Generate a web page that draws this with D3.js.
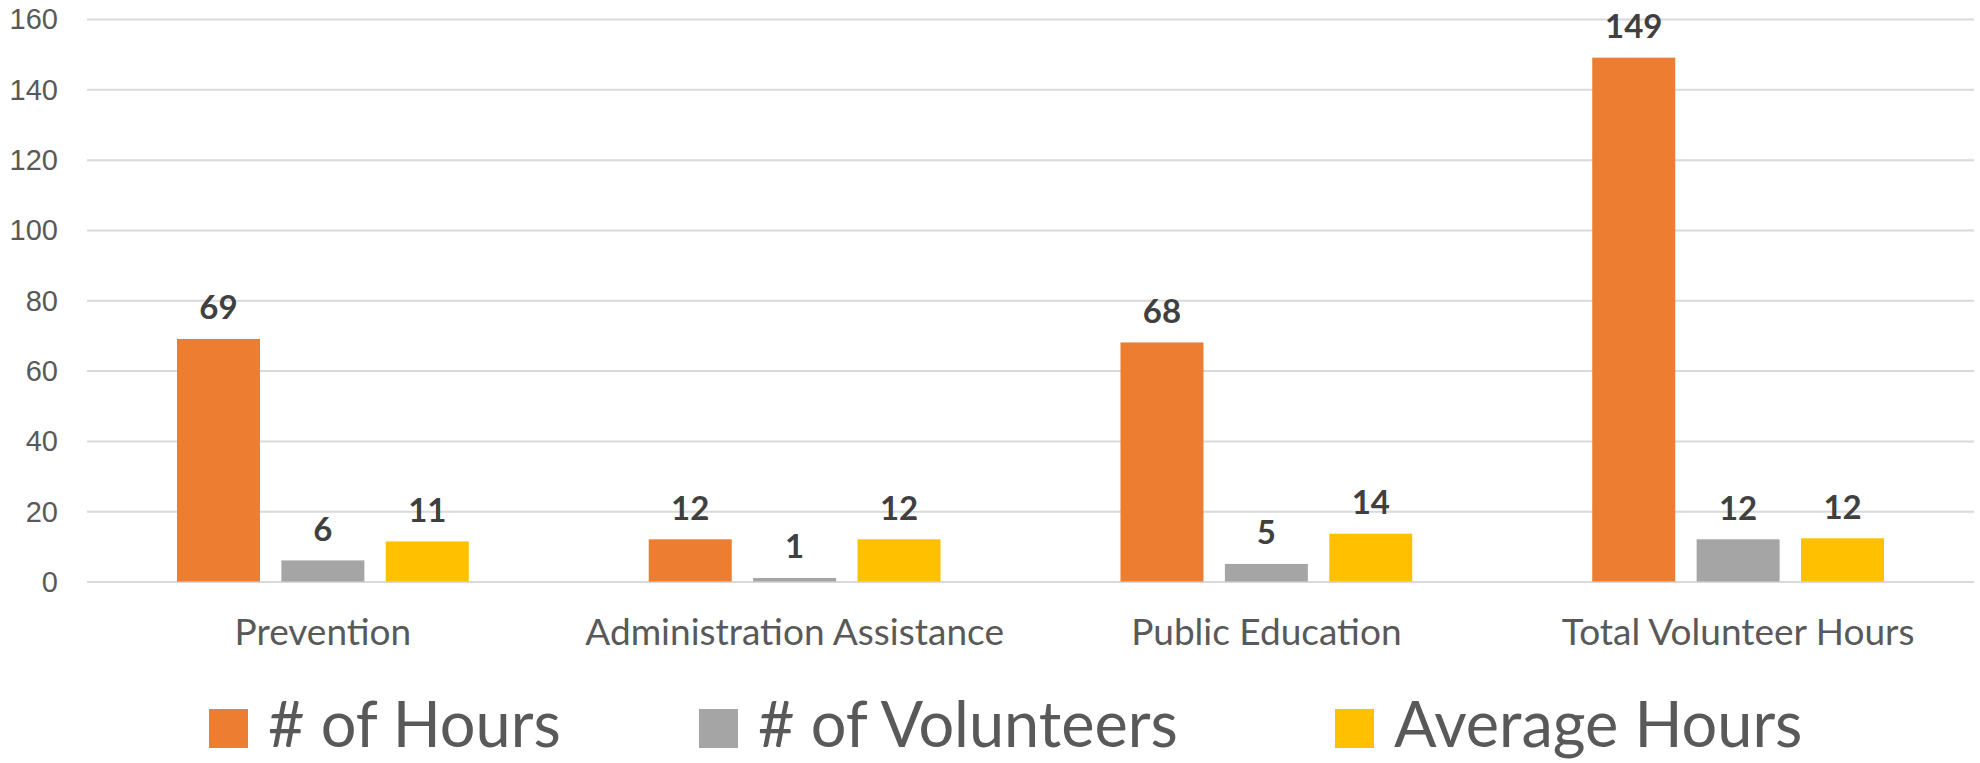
<!DOCTYPE html>
<html>
<head>
<meta charset="utf-8">
<script src="https://cdn.jsdelivr.net/npm/d3@7/dist/d3.min.js"></script>
<style>
  html, body { margin: 0; padding: 0; background: #ffffff; }
  svg { display: block; font-family: Lato, "Open Sans", sans-serif; }
</style>
</head>
<body>
<svg id="chart" width="1980" height="763"></svg>
<script>
const categories = ["Prevention", "Administration Assistance", "Public Education", "Total Volunteer Hours"];
const seriesNames = ["# of Hours", "# of Volunteers", "Average Hours"];
const hours = [69, 12, 68, 149];
const volunteers = [6, 1, 5, 12];
const averageHours = [11.4, 12, 13.6, 12.3];
const yTicks = [0, 20, 40, 60, 80, 100, 120, 140, 160];
const colors = ["#ED7D31", "#A5A5A5", "#FFC000"];

const seriesValues = [hours, volunteers, averageHours];

const svg = d3.select("#chart");

const x0 = d3.scaleBand().domain(categories).range([87, 1974]).paddingInner(0).paddingOuter(0);
const x1 = d3.scaleBand().domain(seriesNames).range([0, x0.bandwidth()]).paddingInner(0.205).paddingOuter(0.862);
const y = d3.scaleLinear().domain([0, 160]).range([581.5, 19]);

// gridlines
const yAxis = d3.axisLeft(y).tickValues(yTicks).tickSize(-(1974 - 87)).tickPadding(29).tickFormat(d3.format("d"));
const gAxis = svg.append("g").attr("transform", "translate(87,0)").call(yAxis);
gAxis.select(".domain").remove();
gAxis.selectAll(".tick line").attr("stroke", "#D9D9D9").attr("stroke-width", 2);
gAxis.selectAll(".tick text")
  .attr("fill", "#595959")
  .style("font-size", "29px")
  .attr("dy", "0.34em");

// bars
const groups = svg.append("g").selectAll("g")
  .data(categories)
  .join("g")
  .attr("transform", d => `translate(${x0(d)},0)`);

groups.selectAll("rect")
  .data((c, ci) => seriesNames.map((s, si) => ({ s, si, v: seriesValues[si][ci] })))
  .join("rect")
  .attr("x", d => x1(d.s))
  .attr("width", x1.bandwidth())
  .attr("y", d => y(d.v))
  .attr("height", d => y(0) - y(d.v))
  .attr("fill", d => colors[d.si]);

groups.selectAll("text.lbl")
  .data((c, ci) => seriesNames.map((s, si) => ({ s, si, v: seriesValues[si][ci] })))
  .join("text")
  .attr("class", "lbl")
  .attr("x", d => x1(d.s) + x1.bandwidth() / 2)
  .attr("y", d => y(d.v) - 19.5)
  .attr("text-anchor", "middle")
  .attr("fill", "#404040")
  .style("font-size", "33px")
  .style("font-weight", "bold")
  .text(d => Math.round(d.v));

// category labels
svg.append("g").selectAll("text")
  .data(categories)
  .join("text")
  .attr("x", d => x0(d) + x0.bandwidth() / 2)
  .attr("y", 645)
  .attr("text-anchor", "middle")
  .attr("fill", "#595959")
  .style("font-size", "37px")
  .text(d => d);

// legend
const legendX = [209, 699, 1335];
const legend = svg.append("g").selectAll("g")
  .data(seriesNames)
  .join("g")
  .attr("transform", (d, i) => `translate(${legendX[i]},0)`);
legend.append("rect")
  .attr("x", 0).attr("y", 709).attr("width", 39).attr("height", 39)
  .attr("fill", (d, i) => colors[i]);
legend.append("text")
  .attr("x", 59).attr("y", 747)
  .attr("fill", "#595959")
  .style("font-size", "63px")
  .text(d => d);
</script>
</body>
</html>
